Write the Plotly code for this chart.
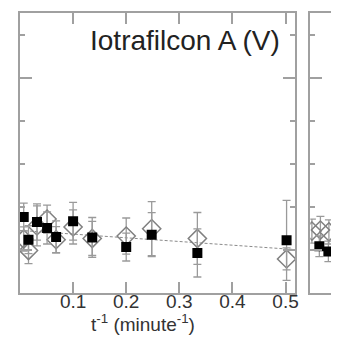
import plotly.graph_objects as go

# ---- data (main panel) ----
x_inv_t = [0.007, 0.016, 0.032, 0.051, 0.068, 0.10, 0.136, 0.20, 0.248, 0.334, 0.502]
sq_y = [0.192, 0.060, 0.163, 0.128, 0.076, 0.167, 0.073, 0.017, 0.089, -0.017, 0.056]
sq_err = [0.081, 0.081, 0.105, 0.093, 0.093, 0.110, 0.116, 0.081, 0.128, 0.140, 0.233]
dia_y = [0.064, -0.003, 0.140, 0.180, 0.060, 0.134, 0.067, 0.081, 0.124, 0.067, -0.052]
dia_err = [0.070, 0.076, 0.116, 0.081, 0.076, 0.099, 0.099, 0.105, 0.157, 0.151, 0.064]
fit_intercept = 0.114
fit_slope = -0.215
fit_x = [0.0, 0.5187]

# ---- data (partial right panel) ----
x2_sq = [0.017, 0.034, 0.0507, 0.063]
y2_sq = [0.022, -0.008, 0.027, -0.105]
e2_sq = [0.06, 0.06, 0.06, 0.06]
x2_dia = [0.003, 0.019, 0.035]
y2_dia = [0.110, 0.116, 0.105]
e2_dia = [0.07, 0.08, 0.07]

title_text = "Iotrafilcon A (V)"
xtick_vals = [0.1, 0.2, 0.3, 0.4, 0.5]
xtick_text = ["0.1", "0.2", "0.3", "0.4", "0.5"]

AX = "#a0a0a0"
EB = "#9a9a9a"
FONT = "Liberation Sans, Arial, sans-serif"

fig = go.Figure()

fit_y = [fit_intercept + fit_slope * v for v in fit_x]
fig.add_trace(go.Scatter(x=fit_x, y=fit_y, mode="lines",
                         line=dict(color="#8a8a8a", width=1, dash="3px,2px"),
                         showlegend=False, hoverinfo="skip"))

fig.add_trace(go.Scatter(x=x_inv_t, y=dia_y, mode="markers",
                         marker=dict(symbol="diamond-open", size=14,
                                     color="#808080", line=dict(width=1.5, color="#808080")),
                         error_y=dict(type="data", array=dia_err, color=EB, thickness=1.3, width=4),
                         showlegend=False))
fig.add_trace(go.Scatter(x=x_inv_t, y=sq_y, mode="markers",
                         marker=dict(symbol="square", size=10, color="black"),
                         error_y=dict(type="data", array=sq_err, color=EB, thickness=1.3, width=4),
                         showlegend=False))

fig.add_trace(go.Scatter(x=x2_dia, y=y2_dia, mode="markers", xaxis="x2", yaxis="y2",
                         marker=dict(symbol="diamond-open", size=14,
                                     color="#808080", line=dict(width=1.5, color="#808080")),
                         error_y=dict(type="data", array=e2_dia, color=EB, thickness=1.3, width=4),
                         showlegend=False))
fig.add_trace(go.Scatter(x=x2_sq, y=y2_sq, mode="markers", xaxis="x2", yaxis="y2",
                         marker=dict(symbol="square", size=10, color="black"),
                         error_y=dict(type="data", array=e2_sq, color=EB, thickness=1.3, width=4),
                         showlegend=False))

W, H = 339, 341
ml, mr, mt, mb = 12, 0, 5, 56
pw = W - ml - mr
ph = H - mt - mb

def px(xp):
    return (xp - ml) / pw

def py(yp):
    return (H - mb - yp) / ph

yaxis_common = dict(range=[-0.25, 1.378], showline=True, linecolor=AX, linewidth=2,
                    ticks="inside", tickcolor=AX, tickwidth=1.5, ticklen=12,
                    tick0=0, dtick=1, showticklabels=False, showgrid=False, zeroline=False,
                    minor=dict(ticks="inside", tick0=0, dtick=0.25, ticklen=5,
                               tickcolor=AX, tickwidth=1.5, showgrid=False))

fig.update_layout(
    width=W, height=H,
    margin=dict(l=ml, r=mr, t=mt, b=mb),
    paper_bgcolor="white", plot_bgcolor="white",
    font=dict(family=FONT, color="#333333"),
    xaxis=dict(domain=[0, px(290)], range=[0, 0.5187], showline=True, linecolor=AX,
               linewidth=2, mirror="ticks", ticks="inside", tickcolor=AX, tickwidth=1.5,
               ticklen=11, tickvals=xtick_vals, ticktext=xtick_text,
               tickfont=dict(size=19, color="#333333", family=FONT),
               ticklabelstandoff=-10,
               showgrid=False, zeroline=False),
    yaxis=dict(yaxis_common, mirror="ticks", anchor="x"),
    xaxis2=dict(domain=[px(305), 1], range=[0, 0.0634], showline=True, linecolor=AX,
                linewidth=2, mirror=True, ticks="", showticklabels=False,
                showgrid=False, zeroline=False, anchor="y2"),
    yaxis2=dict(yaxis_common, anchor="x2", mirror=False),
)

fig.add_annotation(text=title_text, xref="paper", yref="paper",
                   x=px(276), y=py(33), xanchor="right", yanchor="middle",
                   showarrow=False, font=dict(size=28, color="#222222", family=FONT))
fig.add_annotation(text="t<sup>-1</sup> (minute<sup>-1</sup>)", xref="paper", yref="paper",
                   x=px(136), y=py(315), xanchor="center", yanchor="middle",
                   showarrow=False, font=dict(size=19, color="#333333", family=FONT))

fig.write_html("out.html")
